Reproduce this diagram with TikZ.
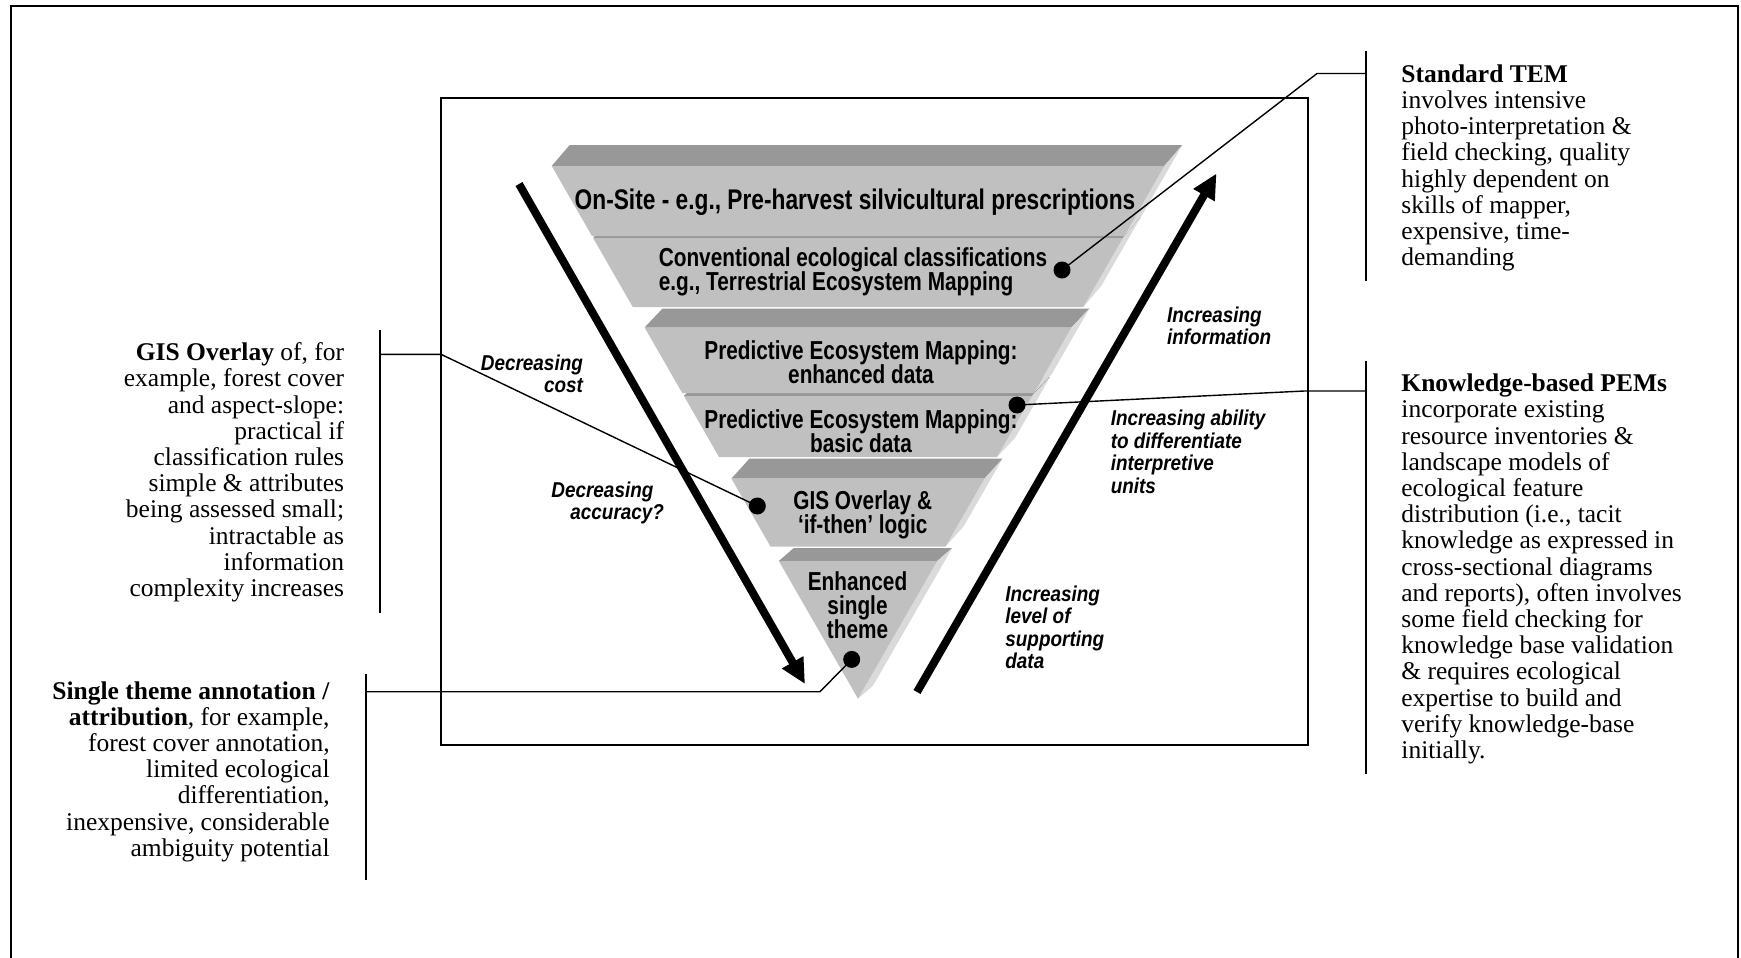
\documentclass[tikz,border=0pt]{standalone}
\usepackage{fontspec}
\setmainfont{Liberation Serif}
\newfontfamily\funnelsans[FakeStretch=0.8]{Liberation Sans}
\newfontfamily\trendsans[FakeStretch=0.88]{Liberation Sans}
\usetikzlibrary{arrows.meta}

\definecolor{topgray}{HTML}{989898}
\definecolor{frontgray}{HTML}{C0C0C0}
\definecolor{sidegray}{HTML}{DADADA}

% stacked lines whose baseline is the baseline of the first line
\newcommand\stackl[1]{\vtop{\lineskiplimit=-100pt\halign{##\hfil\cr#1\crcr}}}
\newcommand\stackr[1]{\vtop{\lineskiplimit=-100pt\halign{\hfil##\cr#1\crcr}}}
\newcommand\stackc[1]{\vtop{\lineskiplimit=-100pt\halign{\hfil##\hfil\cr#1\crcr}}}

% one slab of the funnel: front top y, front bottom y, depth dx, depth rise
\newcommand\funnelband[4]{%
  \pgfmathsetmacro\fbLt{551.7+0.575*(#1-166)}%
  \pgfmathsetmacro\fbRt{1716-\fbLt}%
  \pgfmathsetmacro\fbLb{551.7+0.575*(#2-166)}%
  \pgfmathsetmacro\fbRb{1716-\fbLb}%
  \fill[topgray] (\fbLt,#1) -- (\fbRt,#1) -- (\fbRt+#3,#1-#4) -- (\fbLt+#3,#1-#4) -- cycle;
  \fill[sidegray] (\fbRt,#1) -- (\fbRt+#3,#1-#4) -- (\fbRb+#3,#2-#4) -- (\fbRb,#2) -- cycle;
  \fill[frontgray] (\fbLt,#1) -- (\fbRt,#1) -- (\fbRb,#2) -- (\fbLb,#2) -- cycle;
}

\begin{document}
\begin{tikzpicture}[x=0.5pt,y=-0.5pt,
  note/.style={inner sep=0pt, font=\fontsize{12.75}{13.1}\selectfont\frenchspacing},
  bandtext/.style={inner sep=0pt, font=\funnelsans\bfseries\fontsize{13}{12}\selectfont},
  toptext/.style={inner sep=0pt, font=\funnelsans\bfseries\fontsize{14.2}{12}\selectfont},
  trend/.style={inner sep=0pt, font=\trendsans\bfseries\itshape\fontsize{10.75}{11.3}\selectfont},
  dot/.style={circle, fill=black, inner sep=0pt, minimum size=8.5pt},
  leader/.style={line width=0.7pt},
  bar/.style={line width=0.9pt},
  bigarrow/.style={line width=4pt, -{Triangle[length=12.5pt,width=11.5pt]}}]

\useasboundingbox (0,0) rectangle (1741,958);

% page frame
\draw[line width=1pt] (11,958) -- (11,5.5) -- (1738,5.5) -- (1738,958);

% diagram box
\draw[line width=1pt] (441,98) rectangle (1307.5,745);

% funnel slabs, lowest first
\funnelband{561}{698.7}{15}{13}
\funnelband{478.6}{546.5}{18}{20}
\funnelband{396}{457}{18}{19}
\funnelband{327.5}{393}{18}{19}
\funnelband{238}{307}{18}{21}
\funnelband{166}{236}{18}{21}

% slab labels
\node[toptext, anchor=base] (onsite) at (855,209.5)
  {On-Site - e.g., Pre-harvest silvicultural prescriptions};
\node[bandtext, anchor=base west] (conv) at (658.4,266)
  {\stackl{Conventional ecological classifications\cr e.g., Terrestrial Ecosystem Mapping}};
\node[bandtext, anchor=base] (pemenh) at (861,359)
  {\stackc{Predictive Ecosystem Mapping:\cr enhanced data}};
\node[bandtext, anchor=base] (pembas) at (861,428)
  {\stackc{Predictive Ecosystem Mapping:\cr basic data}};
\node[bandtext, anchor=base] (gis) at (862.7,509.5)
  {\stackc{GIS Overlay \&\cr ‘if-then’ logic}};
\node[bandtext, anchor=base] (single) at (857.5,590.5)
  {\stackc{Enhanced\cr single\cr theme}};

% trend arrows
\coordinate (downS) at (519,184);
\coordinate (downE) at (805,684);
\coordinate (upS) at (917,692);
\coordinate (upE) at (1216.5,173.5);
\draw[bigarrow] (downS) -- (downE);
\draw[bigarrow] (upS) -- (upE);

% trend labels
\node[trend, anchor=base east] (cost) at (583.3,370) {\stackr{Decreasing\cr cost}};
\node[trend, anchor=base west] (acc) at (551,497) {\stackl{Decreasing\cr\kern9.5pt accuracy?}};
\node[trend, anchor=base west] (info) at (1166.7,322) {\stackl{Increasing\cr information}};
\node[trend, anchor=base west] (ability) at (1110.4,425.5)
  {\stackl{Increasing ability\cr to differentiate\cr interpretive\cr units}};
\node[trend, anchor=base west] (level) at (1005,601)
  {\stackl{Increasing\cr level of\cr supporting\cr data}};

% callout dots
\node[dot] (dA) at (1062,270) {};
\node[dot] (dB) at (1017,405) {};
\node[dot] (dC) at (757.3,506) {};
\node[dot] (dD) at (851.7,659.4) {};

% leader elbows and their ends on the side bars
\coordinate (kA) at (1317,73.5);   \coordinate (tA) at (1365.6,73.5);
\coordinate (kB) at (1304.5,391);  \coordinate (tB) at (1365.6,391);
\coordinate (kC) at (441,354.3);   \coordinate (tC) at (379.7,354.3);
\coordinate (kD) at (820,691.7);   \coordinate (tD) at (366,691.7);

\draw[leader] (dA.center) -- (kA) -- (tA);
\draw[leader] (dB.center) -- (kB) -- (tB);
\draw[leader] (dC.center) -- (kC) -- (tC);
\draw[leader] (dD.center) -- (kD) -- (tD);

% side bars
\draw[bar] (1365.6,51) -- (1365.6,281);
\draw[bar] (1365.6,360.5) -- (1365.6,774);
\draw[bar] (379.7,329.5) -- (379.7,613);
\draw[bar] (366,674) -- (366,879.5);

% annotations
\node[note, anchor=base west] (tem) at (1401,82.3)
  {\stackl{\textbf{Standard TEM}\cr
   involves intensive\cr
   photo-interpretation \&\cr
   field checking, quality\cr
   highly dependent on\cr
   skills of mapper,\cr
   expensive, time-\cr
   demanding}};

\node[note, anchor=base west] (kpem) at (1401,391.7)
  {\stackl{\textbf{Knowledge-based PEMs}\cr
   incorporate existing\cr
   resource inventories \&\cr
   landscape models of\cr
   ecological feature\cr
   distribution (i.e., tacit\cr
   knowledge as expressed in\cr
   cross-sectional diagrams\cr
   and reports), often involves\cr
   some field checking for\cr
   knowledge base validation\cr
   \& requires ecological\cr
   expertise to build and\cr
   verify knowledge-base\cr
   initially.}};

\node[note, anchor=base east] (gisnote) at (344.5,360.7)
  {\stackr{\textbf{GIS Overlay} of, for\cr
   example, forest cover\cr
   and aspect-slope:\cr
   practical if\cr
   classification rules\cr
   simple \& attributes\cr
   being assessed small;\cr
   intractable as\cr
   information\cr
   complexity increases}};

\node[note, anchor=base east] (singlenote) at (330,699)
  {\stackr{\textbf{Single theme annotation /}\cr
   \textbf{attribution}, for example,\cr
   forest cover annotation,\cr
   limited ecological\cr
   differentiation,\cr
   inexpensive, considerable\cr
   ambiguity potential}};

\end{tikzpicture}
\end{document}
